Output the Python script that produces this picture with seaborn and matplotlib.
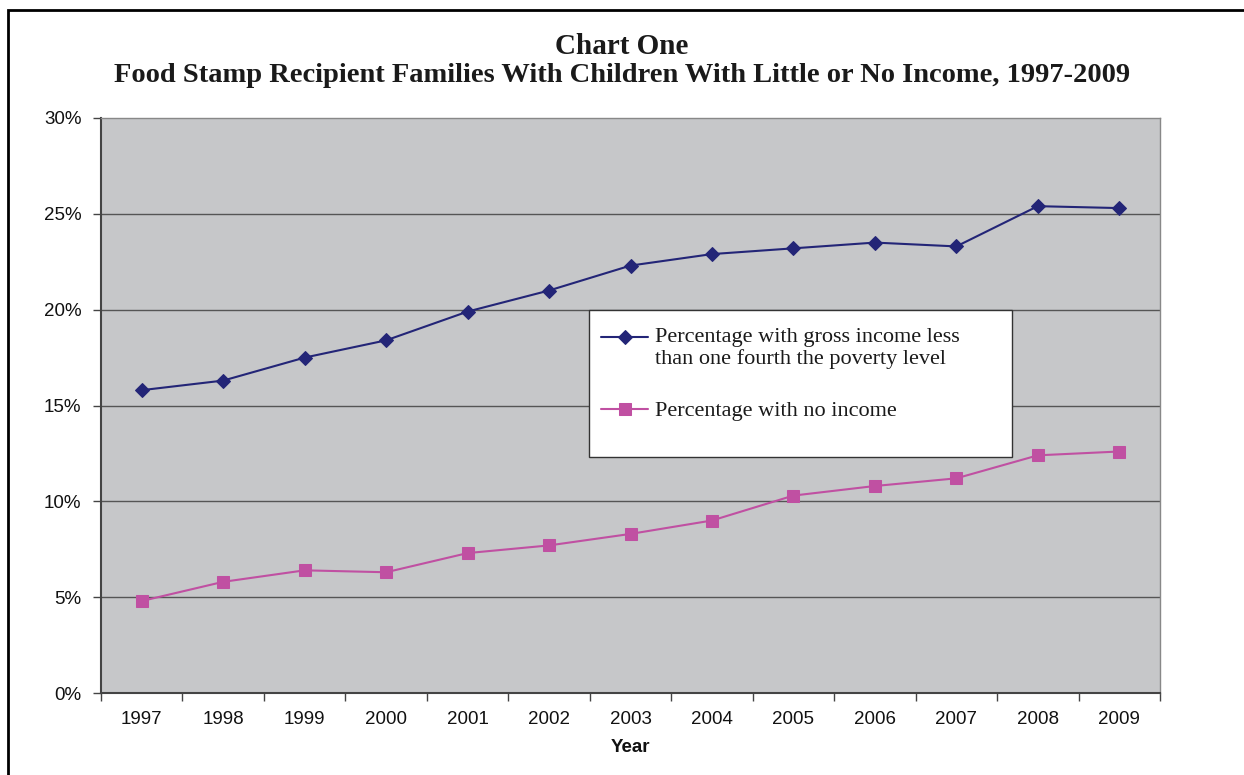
import matplotlib
matplotlib.use("Agg")
import matplotlib.pyplot as plt
import seaborn as sns
import pandas as pd
import numpy as np
from matplotlib.patches import Rectangle
from matplotlib.ticker import FixedLocator, NullFormatter, FixedFormatter
from matplotlib.legend_handler import HandlerLine2D

years = ["1997", "1998", "1999", "2000", "2001", "2002", "2003",
         "2004", "2005", "2006", "2007", "2008", "2009"]
gross_quarter_poverty = [15.8, 16.3, 17.5, 18.4, 19.9, 21.0, 22.3,
                         22.9, 23.2, 23.5, 23.3, 25.4, 25.3]
no_income = [4.8, 5.8, 6.4, 6.3, 7.3, 7.7, 8.3,
             9.0, 10.3, 10.8, 11.2, 12.4, 12.6]
y_ticks = [0, 5, 10, 15, 20, 25, 30]
label_gross = "Percentage with gross income less\nthan one fourth the poverty level"
label_none = "Percentage with no income"


class ShiftedHandler(HandlerLine2D):
    def __init__(self, dy=0.0, **kw):
        super().__init__(**kw)
        self.dy = dy

    def create_artists(self, legend, orig_handle, xdescent, ydescent,
                       width, height, fontsize, trans):
        return super().create_artists(legend, orig_handle, xdescent,
                                      ydescent - 2 * self.dy, width, height,
                                      fontsize, trans)


sns.set_theme(style="white")
plt.rcParams['font.family'] = ['Liberation Sans', 'DejaVu Sans']

fig = plt.figure(figsize=(12.44, 7.75), dpi=100)
ax = fig.add_axes([101/1244, 1-693/775, (1160-101)/1244, (693-118)/775])
ax.set_facecolor("#C6C7C9")

idx = np.arange(len(years))
df = pd.DataFrame({"pos": idx, "gross": gross_quarter_poverty, "none": no_income})

navy = "#232577"
pink = "#C050A2"
sns.lineplot(data=df, x="pos", y="gross", ax=ax, color=navy, lw=1.5,
             marker="D", markersize=7, markeredgecolor=navy, label=label_gross)
sns.lineplot(data=df, x="pos", y="none", ax=ax, color=pink, lw=1.5,
             marker="s", markersize=8.5, markeredgecolor=pink, label=label_none)

ax.set_xlim(-0.5, len(years) - 0.5)
ax.set_ylim(0, 30)
for v in y_ticks[1:-1]:
    ax.axhline(v, color="#555555", lw=1.0, zorder=0.5)

ax.set_yticks(y_ticks)
ax.set_yticklabels([f"{v}%" for v in y_ticks], fontsize=13.5, color="#111111")
ax.xaxis.set_major_locator(FixedLocator(np.arange(-0.5, len(years), 1.0)))
ax.xaxis.set_major_formatter(NullFormatter())
ax.xaxis.set_minor_locator(FixedLocator(idx))
ax.xaxis.set_minor_formatter(FixedFormatter(years))
ax.tick_params(axis="x", which="major", direction="out", length=6, width=1, color="#444444", bottom=True)
ax.tick_params(axis="x", which="minor", length=0, labelsize=13.5, pad=13, labelcolor="#111111", bottom=True)
ax.tick_params(axis="y", direction="out", length=6, width=1, color="#444444", left=True, pad=8)

ax.set_xlabel("Year", fontsize=13.5, fontweight="bold", labelpad=8, color="#111111")
ax.set_ylabel("")

for side in ["left", "bottom"]:
    ax.spines[side].set_color("#444444")
    ax.spines[side].set_linewidth(1.5)
for side in ["top", "right"]:
    ax.spines[side].set_color("#888888")
    ax.spines[side].set_linewidth(1.0)

# legend box
bx0, bx1 = (589-101)/1059, (1012-101)/1059
by0, by1 = (693-457)/575, (693-310)/575
ax.add_patch(Rectangle((bx0, by0), bx1 - bx0, by1 - by0, transform=ax.transAxes,
                       facecolor="white", edgecolor="#333333", lw=1.0, zorder=4))

handles, labels = ax.get_legend_handles_labels()
leg = ax.legend(handles, labels, loc="upper left",
                bbox_to_anchor=(bx0, (693-316)/575),
                frameon=False, prop={"family": "Liberation Serif", "size": 16},
                labelspacing=1.45, handlelength=2.1, handletextpad=0.3,
                borderpad=0.55, borderaxespad=0,
                handler_map={handles[0]: ShiftedHandler(dy=7.5)})
leg.set_zorder(5)
leg.get_texts()[0].set_linespacing(1.1)
for t in leg.get_texts():
    t.set_color("#1a1a1a")

fig.text(0.5, 1-46/775, "Chart One", ha="center", va="center",
         family="Liberation Serif", fontweight="bold", fontsize=21, color="#1a1a1a")
fig.text(0.5, 1-76/775, "Food Stamp Recipient Families With Children With Little or No Income, 1997-2009",
         ha="center", va="center", family="Liberation Serif", fontweight="bold",
         fontsize=20.5, color="#1a1a1a")

fig.add_artist(Rectangle((8/1244, -0.1), 1.2, 1-10/775 + 0.1, transform=fig.transFigure,
                         fill=False, edgecolor="black", lw=2))

fig.savefig("out.png", dpi=100, facecolor="white")
